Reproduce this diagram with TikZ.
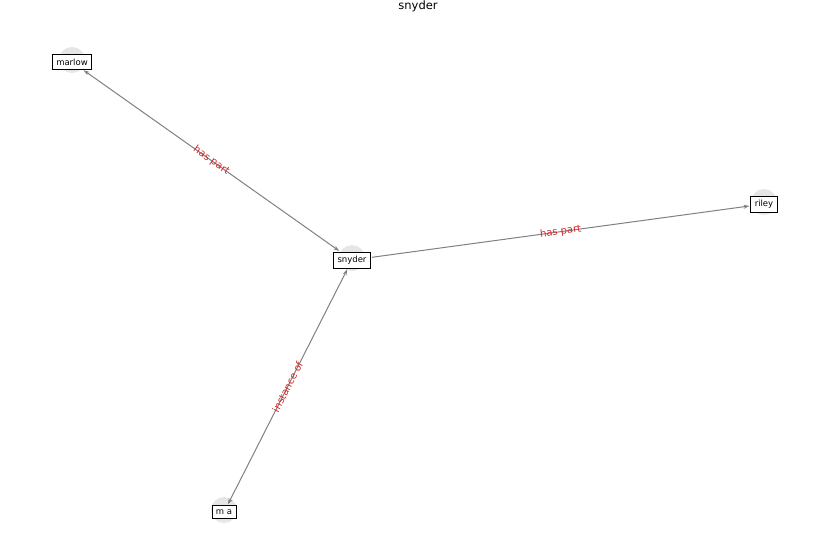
\documentclass[tikz,border=0pt]{standalone}
\usepackage{fontspec}
\setmainfont{DejaVu Sans}
\usetikzlibrary{arrows.meta}
\definecolor{edgegrey}{HTML}{808080}
\definecolor{lblred}{HTML}{D62728}
\definecolor{halo}{HTML}{E6E6E6}
\tikzset{
  ent/.style={draw=black, fill=white, line width=0.7pt, inner xsep=4pt, inner ysep=4pt, font=\fontsize{8.5}{9}\selectfont},
  haloc/.style={fill=halo, draw=none, circle, minimum size=26pt, inner sep=0pt},
  rel/.style={draw=edgegrey, line width=1pt, -{Stealth[length=6pt,width=4pt]}, shorten >=1pt, shorten <=1pt},
  relb/.style={draw=edgegrey, line width=1pt, {Stealth[length=6pt,width=4pt]}-{Stealth[length=6pt,width=4pt]}, shorten >=1pt, shorten <=1pt},
  lbl/.style={text=lblred, font=\fontsize{10}{11}\selectfont, inner sep=0pt, sloped}
}
\begin{document}
\begin{tikzpicture}[x=1pt,y=-1pt]
\useasboundingbox (0,0) rectangle (837,559);
\node[font=\fontsize{11.5}{13}\selectfont] (title) at (418,6) {snyder};
\node[haloc] (hmarlow) at (72,60) {};
\node[haloc] (hsnyder) at (352,258) {};
\node[haloc] (hriley) at (764,202) {};
\node[haloc] (hma) at (224,510) {};
\node[ent] (marlow) at (72,62) {marlow};
\node[ent] (snyder) at (352,260) {snyder};
\node[ent] (riley) at (764,204) {riley};
\node[ent] (ma) at (224,512) {m a};
\draw[relb] (marlow) -- node[lbl] {has part} (snyder);
\draw[rel] (snyder) -- node[lbl] {has part} (riley);
\draw[relb] (ma) -- node[lbl] {instance of} (snyder);
\end{tikzpicture}
\end{document}
